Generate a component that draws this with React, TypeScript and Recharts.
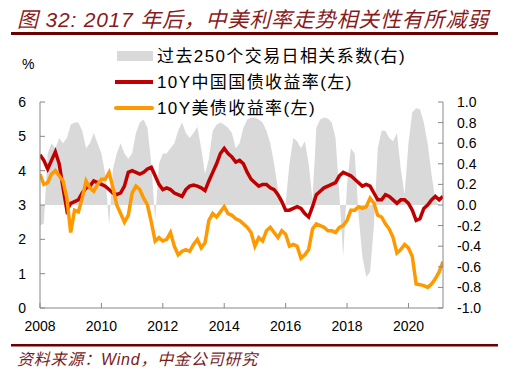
import React from 'react';
import { ComposedChart, Area, Line, XAxis, YAxis } from 'recharts';

const startYear = 2008;
const step = 0.125;

// 10Y China government bond yield (%), left axis
const cnYield = [
  4.46, 4.3, 4.05, 4.3, 4.55, 4.2, 3.5, 2.85,
  3.05, 3.1, 3.15, 3.35, 3.5, 3.55, 3.7, 3.65,
  3.6, 3.55, 3.45, 3.35, 3.3, 3.35, 3.55, 3.95,
  4.0, 3.95, 3.9, 3.95, 4.05, 4.1, 3.85, 3.6,
  3.45, 3.5, 3.45, 3.35, 3.3, 3.25, 3.45, 3.55,
  3.58, 3.55, 3.5, 3.42, 3.7, 3.95, 4.2, 4.5,
  4.65, 4.5, 4.4, 4.25, 4.3, 4.2, 3.95, 3.75,
  3.65, 3.55, 3.6, 3.6, 3.5, 3.45, 3.3, 3.1,
  2.85, 2.85, 2.9, 2.95, 2.9, 2.75, 2.65, 2.95,
  3.3, 3.4, 3.5, 3.55, 3.6, 3.65, 3.85, 3.95,
  3.9, 3.85, 3.75, 3.65, 3.55, 3.6, 3.55, 3.35,
  3.15, 3.15, 3.3, 3.25, 3.15, 3.05, 3.15, 3.15,
  3.05, 2.85, 2.55, 2.6, 2.9, 3.0, 3.15, 3.25,
  3.15, 3.25,
];

// 10Y US Treasury yield (%), left axis
const usYield = [
  3.9, 3.6, 3.65, 3.9, 4.0, 3.85, 3.7, 3.2,
  2.2, 2.85, 2.8, 3.2, 3.7, 3.5, 3.4, 3.6,
  3.75, 3.75, 3.95, 3.5, 3.0, 2.75, 2.5, 2.7,
  3.35, 3.55, 3.45, 3.2, 3.0, 2.5, 1.95, 2.05,
  1.95, 2.0, 2.2, 1.8, 1.55, 1.65, 1.7, 1.65,
  1.85, 2.0, 1.75, 1.9, 2.55, 2.75, 2.65, 2.8,
  2.95, 2.75, 2.7, 2.6, 2.55, 2.45, 2.35, 2.2,
  1.8, 2.05, 1.95, 2.25, 2.35, 2.2, 2.05, 2.25,
  2.15, 1.8, 1.85, 1.8, 1.45, 1.55, 1.7, 2.3,
  2.45, 2.4, 2.35, 2.25, 2.25, 2.2, 2.35, 2.4,
  2.55, 2.85, 2.85, 2.95, 2.9, 2.95, 3.2, 3.05,
  2.7, 2.65, 2.45, 2.3, 2.05, 1.6, 1.7, 1.85,
  1.75, 1.5, 0.7, 0.68, 0.65, 0.6, 0.7, 0.85,
  1.05, 1.35,
];

// Rolling 250-trading-day correlation, right axis
const correlation = [
  -0.2, -0.18, 0.5, 0.6, 0.55, 0.65, 0.6, 0.65,
  0.78, 0.8, 0.8, 0.72, 0.55, 0.6, 0.7, 0.6,
  0.5, 0.3, -0.2, 0.35, 0.5, 0.6, 0.5, 0.45,
  0.5, 0.7, 0.8, 0.83, 0.75, 0.4, -0.15, 0.4,
  0.5, 0.5, 0.55, 0.6, 0.72, 0.8, 0.7, 0.65,
  0.7, 0.76, 0.55, 0.3, 0.45, 0.72, 0.78, 0.8,
  0.78, 0.75, 0.7, 0.55, 0.6, 0.75, 0.83, 0.85,
  0.85, 0.83, 0.8, 0.72, 0.6, 0.4, 0.15, 0.0,
  0.02, 0.4, 0.65, 0.62, 0.55, 0.62, 0.4, 0.05,
  0.75, 0.83, 0.85, 0.84, 0.8, 0.65, 0.1, -0.5,
  0.2, 0.55, 0.5, -0.1, -0.5, -0.7, -0.65, -0.2,
  0.55, 0.72, 0.72, 0.65, 0.62, 0.7, 0.35, 0.1,
  0.6, 0.9, 0.94, 0.93, 0.8, 0.6, 0.3, 0.05,
  0.0, 0.0,
];

const xTicks = [2008, 2010, 2012, 2014, 2016, 2018, 2020];
const leftTicks = [0, 1, 2, 3, 4, 5, 6];
const rightTicks = [-1.0, -0.8, -0.6, -0.4, -0.2, 0.0, 0.2, 0.4, 0.6, 0.8, 1.0];

const title = '图 32: 2017 年后，中美利率走势相关性有所减弱';
const source = '资料来源：Wind，中金公司研究';
const legendCorr = '过去250个交易日相关系数(右)';
const legendCn = '10Y中国国债收益率(左)';
const legendUs = '10Y美债收益率(左)';

const data = cnYield.map((v, i) => ({
  date: startYear + i * step,
  cn: v,
  us: usYield[i],
  corr: correlation[i],
}));

const FONT = '"Liberation Sans", Arial, "Noto Sans CJK SC", sans-serif';
const tickStyle = { fontSize: 14, fill: '#000', fontFamily: FONT };

export default function App() {
  return (
    <div style={{ position: 'absolute', left: 0, top: 0, width: 514, height: 380, background: '#fff' }}>
      <ComposedChart
        width={514}
        height={380}
        data={data}
        margin={{ top: 102, right: 21, bottom: 42, left: 10 }}
      >
        <XAxis
          dataKey="date"
          type="number"
          domain={[2008, 2021.125]}
          ticks={xTicks}
          interval={0}
          tickSize={-5}
          tickMargin={18}
          stroke="#888"
          tick={tickStyle}
          height={30}
          allowDataOverflow
        />
        <YAxis
          yAxisId="left"
          orientation="left"
          domain={[0, 6]}
          ticks={leftTicks}
          interval={0}
          tickSize={-5}
          tickMargin={19}
          width={30}
          stroke="#888"
          tick={tickStyle}
        />
        <YAxis
          yAxisId="right"
          orientation="right"
          domain={[-1, 1]}
          ticks={rightTicks}
          interval={0}
          tickFormatter={(v: number) => v.toFixed(1)}
          tickSize={-5}
          tickMargin={19}
          width={50}
          stroke="#888"
          tick={tickStyle}
        />
        <Area
          yAxisId="right"
          dataKey="corr"
          type="linear"
          baseValue={0}
          fill="#d9d9d9"
          fillOpacity={1}
          stroke="none"
          isAnimationActive={false}
        />
        <Line
          yAxisId="left"
          dataKey="cn"
          type="linear"
          stroke="#c00000"
          strokeWidth={3.5}
          dot={false}
          isAnimationActive={false}
        />
        <Line
          yAxisId="left"
          dataKey="us"
          type="linear"
          stroke="#ff9900"
          strokeWidth={3.5}
          dot={false}
          isAnimationActive={false}
        />
      </ComposedChart>
      <svg
        width={514}
        height={380}
        style={{ position: 'absolute', left: 0, top: 0, pointerEvents: 'none' }}
      >
        <text x={17} y={27} fontSize={21} fontStyle="italic" fill="#8a1a1a" letterSpacing={0.8} fontFamily={FONT}>
          {title}
        </text>
        <rect x={11} y={32} width={487} height={3} fill="#6a0000" />
        <text x={22} y={64} fontSize={14} fill="#000" dominantBaseline="central" fontFamily={FONT}>%</text>
        <rect x={117} y={51} width={36} height={10} fill="#d9d9d9" />
        <text x={157} y={56} fontSize={17} fill="#000" letterSpacing={1.4} dominantBaseline="central" fontFamily={FONT}>
          {legendCorr}
        </text>
        <line x1={115} y1={82} x2={153} y2={82} stroke="#c00000" strokeWidth={4} />
        <text x={157} y={82} fontSize={17} fill="#000" letterSpacing={1.4} dominantBaseline="central" fontFamily={FONT}>
          {legendCn}
        </text>
        <line x1={116} y1={108} x2={152} y2={108} stroke="#ff9900" strokeWidth={4} strokeLinecap="round" />
        <text x={157} y={108} fontSize={17} fill="#000" letterSpacing={1.4} dominantBaseline="central" fontFamily={FONT}>
          {legendUs}
        </text>
        <rect x={11} y={344} width={487} height={2.5} fill="#6a0000" />
        <text x={17} y={365} fontSize={16} fontStyle="italic" fill="#7a1c1c" letterSpacing={0.8} fontFamily={FONT}>
          {source}
        </text>
      </svg>
    </div>
  );
}
